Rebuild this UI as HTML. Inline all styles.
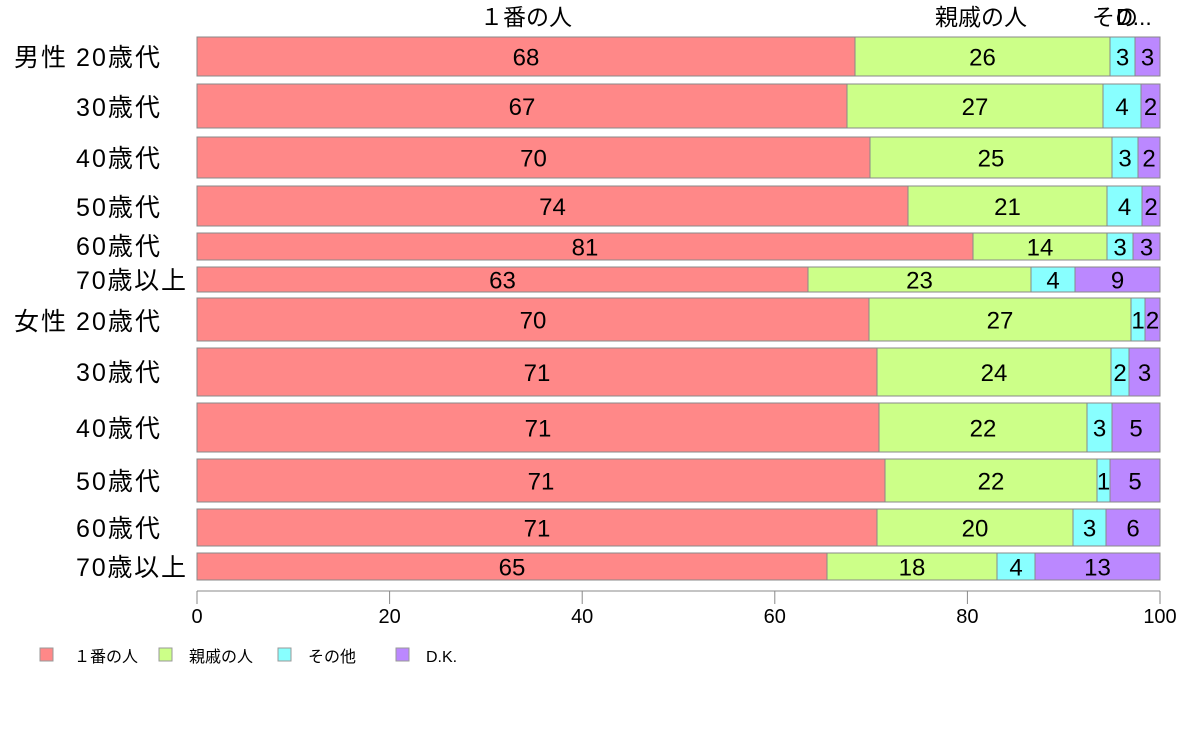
<!DOCTYPE html>
<html><head><meta charset="utf-8"><style>
body{margin:0;background:#fff}
svg text{font-family:"Liberation Sans","Noto Sans CJK JP",sans-serif}
</style></head><body>
<svg width="1188" height="736" xmlns="http://www.w3.org/2000/svg">
<g font-size="23" fill="#000">
<text x="526" y="25" text-anchor="middle">１番の人</text>
<text x="981" y="25" text-anchor="middle">親戚の人</text>
<text x="1092" y="25">その</text>
<text x="1116" y="25">D...</text>
</g>
<g id="bars" stroke="#888" stroke-width="1"></g>
<g id="labs" font-size="24" text-anchor="middle"></g>
<g font-size="25">
<text x="14" y="66" textLength="52">男性</text><text x="14" y="330" textLength="52">女性</text>
<text x="76" y="66" textLength="84">20歳代</text><text x="76" y="116" textLength="84">30歳代</text><text x="76" y="167" textLength="84">40歳代</text>
<text x="76" y="216" textLength="84">50歳代</text><text x="76" y="255" textLength="84">60歳代</text><text x="76" y="289" textLength="110">70歳以上</text>
<text x="76" y="330" textLength="84">20歳代</text><text x="76" y="381" textLength="84">30歳代</text><text x="76" y="437" textLength="84">40歳代</text>
<text x="76" y="490" textLength="84">50歳代</text><text x="76" y="537" textLength="84">60歳代</text><text x="76" y="576" textLength="110">70歳以上</text>
</g>
<g stroke="#888" fill="none">
<line x1="197" y1="591" x2="1160" y2="591"/>
<line x1="197" y1="591" x2="197" y2="604"/><line x1="389.6" y1="591" x2="389.6" y2="604"/>
<line x1="582.2" y1="591" x2="582.2" y2="604"/><line x1="774.8" y1="591" x2="774.8" y2="604"/>
<line x1="967.4" y1="591" x2="967.4" y2="604"/><line x1="1160" y1="591" x2="1160" y2="604"/>
</g>
<g font-size="20" text-anchor="middle">
<text x="197" y="623">0</text><text x="389.6" y="623">20</text><text x="582.2" y="623">40</text>
<text x="774.8" y="623">60</text><text x="967.4" y="623">80</text><text x="1160" y="623">100</text>
</g>
<g stroke="#999" font-size="15">
<rect x="40" y="648" width="13" height="13" fill="#FF8888"/>
<rect x="159" y="648" width="13" height="13" fill="#CCFF88"/>
<rect x="278" y="648" width="13" height="13" fill="#88FFFF"/>
<rect x="396" y="648" width="13" height="13" fill="#BB88FF"/>
</g>
<g font-size="16">
<text x="74" y="662">１番の人</text><text x="189" y="662">親戚の人</text>
<text x="308" y="662">その他</text><text x="426" y="662">D.K.</text>
</g>
</svg>
<script>
var rows=[[37,76,855,1110,1135,[68,26,3,3]],[84,128,847,1103,1141,[67,27,4,2]],[137,178,870,1112,1138,[70,25,3,2]],
[186,226,908,1107,1142,[74,21,4,2]],[233,260,973,1107,1133,[81,14,3,3]],[267,292,808,1031,1075,[63,23,4,9]],
[298,341,869,1131,1145,[70,27,1,2]],[348,396,877,1111,1129,[71,24,2,3]],[403,452,879,1087,1112,[71,22,3,5]],
[459,502,885,1097,1110,[71,22,1,5]],[509,546,877,1073,1106,[71,20,3,6]],[553,580,827,997,1035,[65,18,4,13]]];
var cols=["#FF8888","#CCFF88","#88FFFF","#BB88FF"],ns="http://www.w3.org/2000/svg";
var B=document.getElementById("bars"),L=document.getElementById("labs");
rows.forEach(function(r){var xs=[197,r[2],r[3],r[4],1160];
for(var i=0;i<4;i++){var e=document.createElementNS(ns,"rect");e.setAttribute("x",xs[i]);e.setAttribute("y",r[0]);
e.setAttribute("width",xs[i+1]-xs[i]);e.setAttribute("height",r[1]-r[0]);e.setAttribute("fill",cols[i]);B.appendChild(e);
var t=document.createElementNS(ns,"text");t.setAttribute("x",(xs[i]+xs[i+1])/2);t.setAttribute("y",(r[0]+r[1])/2+9);
t.textContent=r[5][i];L.appendChild(t);}});
</script>
</body></html>
